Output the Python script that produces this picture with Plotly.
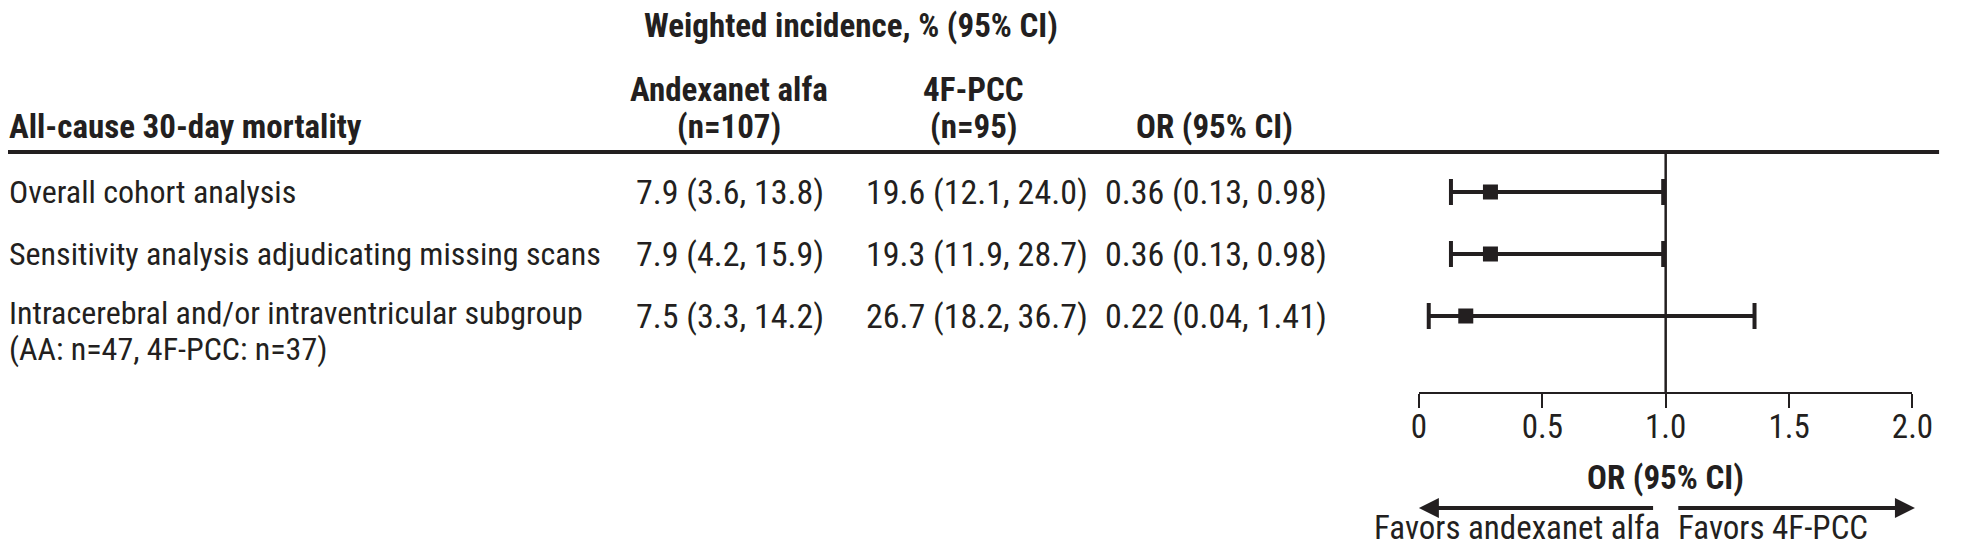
import plotly.graph_objects as go

# Table content
row_labels = ["Overall cohort analysis",
              "Sensitivity analysis adjudicating missing scans",
              "Intracerebral and/or intraventricular subgroup"]
row_sublabels = ["", "", "(AA: n=47, 4F-PCC: n=37)"]
aa_text = ["7.9 (3.6, 13.8)", "7.9 (4.2, 15.9)", "7.5 (3.3, 14.2)"]
pcc_text = ["19.6 (12.1, 24.0)", "19.3 (11.9, 28.7)", "26.7 (18.2, 36.7)"]
or_text = ["0.36 (0.13, 0.98)", "0.36 (0.13, 0.98)", "0.22 (0.04, 1.41)"]

# Forest plot marks (as drawn in the figure)
or_point = [0.29, 0.29, 0.19]
or_low = [0.13, 0.13, 0.04]
or_high = [0.99, 0.99, 1.36]

tick_vals = [0, 0.5, 1.0, 1.5, 2.0]
tick_text = ["0", "0.5", "1.0", "1.5", "2.0"]

W, H = 1966, 548
INK = "#231f20"
FONT = "Liberation Sans Narrow, Arial Narrow, Roboto Condensed, DejaVu Sans Condensed, sans-serif"
FS_LABEL = 32
FS_VALUE = 34
FS_BOLD = 33


def px(x):
    return x / W


def py(y):
    return 1 - y / H


rows = list(range(len(row_labels)))
# row i sits at 192 + 62*i px from the top; axis bottom at 392 px
row0, row_step, axis_y = 192, 62, 392
y_top = -row0 / row_step
y_bot = (axis_y - row0) / row_step

fig = go.Figure()

fig.add_trace(go.Scatter(
    x=or_point, y=rows, mode="markers",
    marker=dict(symbol="square", size=15, color=INK),
    error_x=dict(type="data", symmetric=False,
                 array=[h - p for h, p in zip(or_high, or_point)],
                 arrayminus=[p - l for p, l in zip(or_point, or_low)],
                 color=INK, thickness=4, width=13),
    showlegend=False, hoverinfo="skip",
))

ann = []


def txt(text, x, y, xanchor="center", bold=False, yref="paper", size=FS_LABEL,
        yanchor="middle"):
    ann.append(dict(text=f"<b>{text}</b>" if bold else text, x=x, y=y,
                    xref="paper", yref=yref, xanchor=xanchor, yanchor=yanchor,
                    showarrow=False, borderpad=0,
                    font=dict(family=FONT, size=FS_BOLD if bold else size, color=INK)))


# header
txt("Weighted incidence, % (95% CI)", px(856), py(25), bold=True)
txt("Andexanet alfa", px(732), py(90), bold=True)
txt("(n=107)", px(732), py(126), bold=True)
txt("4F-PCC", px(980), py(90), bold=True)
txt("(n=95)", px(980), py(126), bold=True)
txt("OR (95% CI)", px(1225), py(126), bold=True)
txt("All-cause 30-day mortality", 0, py(126), xanchor="left", bold=True)

# body rows
for i in rows:
    if row_sublabels[i]:
        # two-line label: nudge first line up a little, second line below it
        txt(row_labels[i], 0, i - 3 / row_step, xanchor="left", yref="y")
        txt(row_sublabels[i], 0, i + 33 / row_step, xanchor="left", yref="y")
    else:
        txt(row_labels[i], 0, i, xanchor="left", yref="y")
    txt(aa_text[i], px(733), i, yref="y", size=FS_VALUE)
    txt(pcc_text[i], px(983), i, yref="y", size=FS_VALUE)
    txt(or_text[i], px(1226), i, yref="y", size=FS_VALUE)

# axis title and direction labels
txt("OR (95% CI)", px(1682), py(477), bold=True)
txt("Favors andexanet alfa", px(1678), 0, xanchor="right", yanchor="bottom", size=33)
txt("Favors 4F-PCC", px(1694), 0, xanchor="left", yanchor="bottom", size=33)

# direction arrows
for tail, tip in [(0.955, 0.0), (1.045, 2.01)]:
    ann.append(dict(x=tip, y=py(508), ax=tail, ay=0, xref="x", yref="paper",
                    axref="x", ayref="pixel", text="", showarrow=True,
                    arrowhead=2, arrowsize=1, arrowwidth=4, arrowcolor=INK))

shapes = [
    dict(type="line", xref="paper", yref="paper", x0=0, x1=px(1960),
         y0=py(152), y1=py(152), line=dict(color=INK, width=4)),
    dict(type="line", xref="x", yref="paper", x0=1, x1=1,
         y0=py(axis_y), y1=py(152), line=dict(color=INK, width=2.5)),
]

fig.update_layout(
    width=W, height=H,
    margin=dict(l=0, r=0, t=0, b=0),
    paper_bgcolor="white", plot_bgcolor="white",
    annotations=ann, shapes=shapes,
    xaxis=dict(domain=[px(1432), px(1933)], range=[0, 2],
               tickvals=tick_vals, ticktext=tick_text,
               ticks="outside", ticklen=14, tickwidth=2, tickcolor=INK,
               ticklabelstandoff=-10,
               showline=True, linecolor=INK, linewidth=2,
               showgrid=False, zeroline=False,
               tickfont=dict(family=FONT, size=33, color=INK)),
    yaxis=dict(domain=[py(axis_y), 1], range=[y_bot, y_top],
               visible=False, showgrid=False, zeroline=False),
)

# drop the browser's default body margin so the figure sits at the page corner
fig.write_html("out.html", config={"displayModeBar": False},
               post_script="document.body.style.margin='0';")
